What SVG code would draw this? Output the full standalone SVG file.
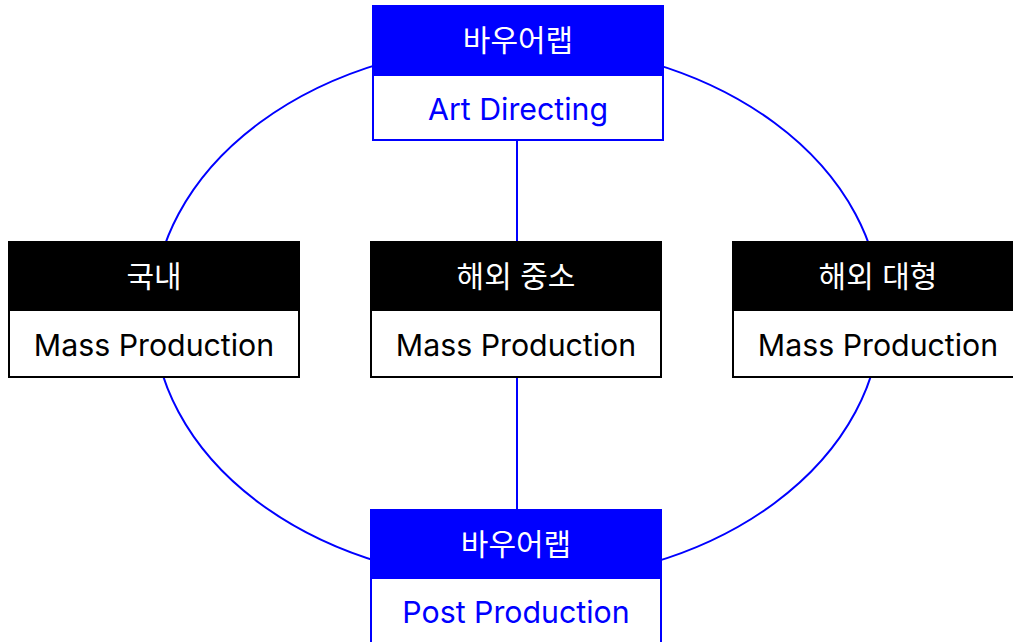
<svg xmlns="http://www.w3.org/2000/svg" width="1013" height="642" viewBox="0 0 1013 642">
<style>
.hb{fill:#0000ff}
.hk{fill:#000}
.bb{fill:#fff;stroke:#0000ff;stroke-width:2}
.bk{fill:#fff;stroke:#000;stroke-width:2}
.ht{font-family:Inter,"Noto Sans CJK KR",sans-serif;font-size:30px;fill:#fff;text-anchor:middle}
.bt{font-family:Inter,"Noto Sans CJK KR",sans-serif;font-size:30.3px;text-anchor:middle}
.conn{fill:none;stroke:#0000ff;stroke-width:2}
</style>
<rect width="1013" height="642" fill="#fff"/>
<g id="connectors">
<ellipse class="conn" cx="517" cy="313" rx="364" ry="269"/>
<line class="conn" x1="517" y1="140" x2="517" y2="242"/>
<line class="conn" x1="517" y1="377" x2="517" y2="509"/>
</g>
<g id="top">
<rect class="bb" x="373" y="75" width="290" height="65"/>
<rect class="hb" x="372" y="5" width="292" height="70"/>
<text class="ht" x="518" y="51">바우어랩</text>
<text class="bt" x="518" y="120" fill="#0000ff">Art Directing</text>
</g>
<g id="left">
<rect class="bk" x="9" y="310" width="290" height="67"/>
<rect class="hk" x="8" y="241" width="292" height="69"/>
<text class="ht" x="154" y="287">국내</text>
<text class="bt" x="154" y="356" fill="#000">Mass Production</text>
</g>
<g id="middle">
<rect class="bk" x="371" y="310" width="290" height="67"/>
<rect class="hk" x="370" y="241" width="292" height="69"/>
<text class="ht" x="516" y="287">해외 중소</text>
<text class="bt" x="516" y="356" fill="#000">Mass Production</text>
</g>
<g id="right">
<rect class="bk" x="733" y="310" width="290" height="67"/>
<rect class="hk" x="732" y="241" width="292" height="69"/>
<text class="ht" x="878" y="287">해외 대형</text>
<text class="bt" x="878" y="356" fill="#000">Mass Production</text>
</g>
<g id="bottom">
<rect class="bb" x="371" y="578" width="290" height="80"/>
<rect class="hb" x="370" y="509" width="292" height="69"/>
<text class="ht" x="516" y="555">바우어랩</text>
<text class="bt" x="516" y="623" fill="#0000ff">Post Production</text>
</g>
</svg>
